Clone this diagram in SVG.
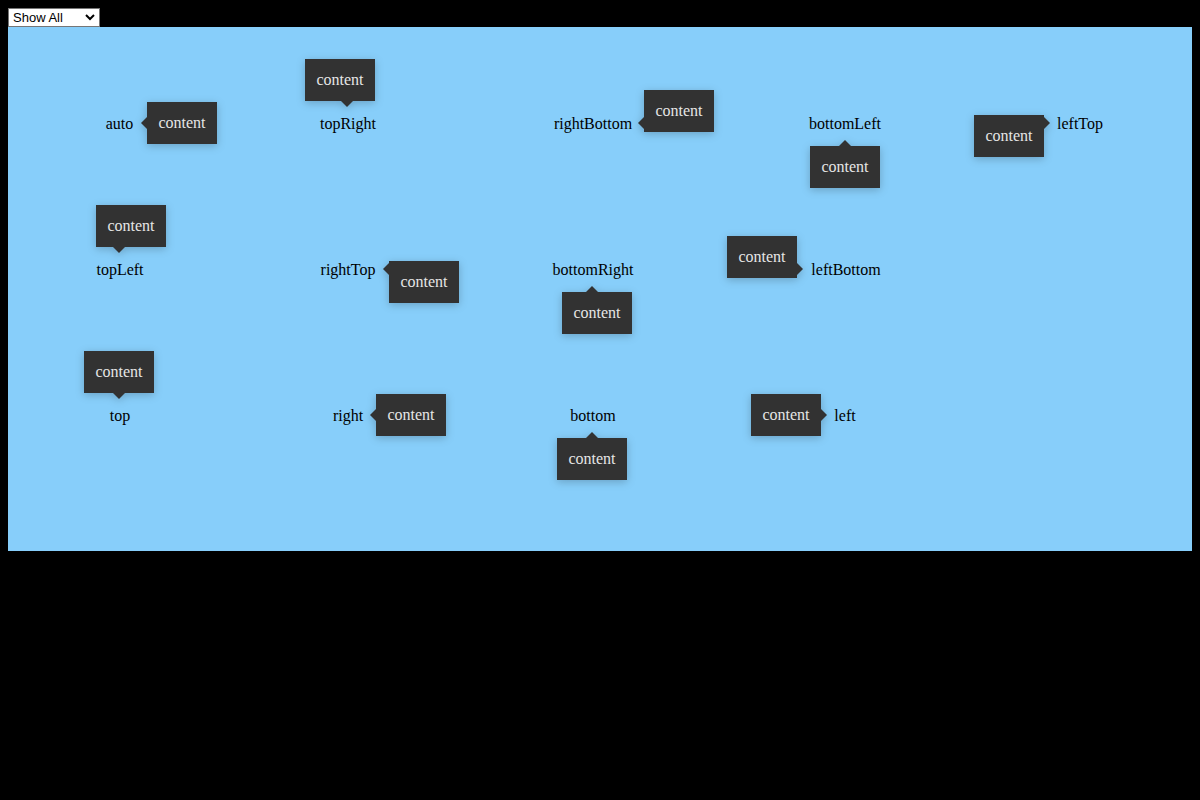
<svg xmlns="http://www.w3.org/2000/svg" width="1200" height="800" viewBox="0 0 1200 800">
<defs>
<filter id="sh" x="-30%" y="-40%" width="160%" height="180%">
<feDropShadow dx="0" dy="2" stdDeviation="4" flood-color="#000" flood-opacity="0.22"/>
</filter>
</defs>
<style>
.lbl{font-family:"Liberation Serif","Times New Roman",serif;font-size:16px;fill:#000;text-anchor:middle}
.tip{fill:#333}
.tt{font-family:"Liberation Serif","Times New Roman",serif;font-size:16px;fill:#e6e6e6;text-anchor:middle}
.sel{font-family:"Liberation Sans",Arial,sans-serif;font-size:13px;fill:#000}
</style>
<rect x="0" y="0" width="1200" height="800" fill="#000"/>
<rect x="8" y="27" width="1184" height="524" fill="#87cefa"/>
<g id="select">
<rect x="8.5" y="8.5" width="91" height="18" fill="#fff" stroke="#767676"/>
<text class="sel" x="13" y="22">Show All</text>
<path d="M86 15 L90 19 L94 15" fill="none" stroke="#000" stroke-width="2"/>
</g>

<g id="auto">
<text class="lbl" x="119.5" y="129">auto</text>
<g filter="url(#sh)"><rect class="tip" x="147" y="102" width="70" height="42"/><path class="tip" d="M147 117 L141 123 L147 129Z"/></g>
<text class="tt" x="182" y="128">content</text>
</g>
<g id="topRight">
<text class="lbl" x="348" y="129">topRight</text>
<g filter="url(#sh)"><rect class="tip" x="305" y="59" width="70" height="42"/><path class="tip" d="M341 101 L347 107 L353 101Z"/></g>
<text class="tt" x="340" y="85">content</text>
</g>
<g id="rightBottom">
<text class="lbl" x="593" y="129">rightBottom</text>
<g filter="url(#sh)"><rect class="tip" x="644" y="90" width="70" height="42"/><path class="tip" d="M644 117 L638 123 L644 129Z"/></g>
<text class="tt" x="679" y="116">content</text>
</g>
<g id="bottomLeft">
<text class="lbl" x="845" y="129">bottomLeft</text>
<g filter="url(#sh)"><rect class="tip" x="810" y="146" width="70" height="42"/><path class="tip" d="M839 146 L845 140 L851 146Z"/></g>
<text class="tt" x="845" y="172">content</text>
</g>
<g id="leftTop">
<text class="lbl" x="1080" y="129">leftTop</text>
<g filter="url(#sh)"><rect class="tip" x="974" y="115" width="70" height="42"/><path class="tip" d="M1044 117 L1050 123 L1044 129Z"/></g>
<text class="tt" x="1009" y="141">content</text>
</g>

<g id="topLeft">
<text class="lbl" x="120" y="275">topLeft</text>
<g filter="url(#sh)"><rect class="tip" x="96" y="205" width="70" height="42"/><path class="tip" d="M113 247 L119 253 L125 247Z"/></g>
<text class="tt" x="131" y="231">content</text>
</g>
<g id="rightTop">
<text class="lbl" x="348" y="275">rightTop</text>
<g filter="url(#sh)"><rect class="tip" x="389" y="261" width="70" height="42"/><path class="tip" d="M389 263 L383 269 L389 275Z"/></g>
<text class="tt" x="424" y="287">content</text>
</g>
<g id="bottomRight">
<text class="lbl" x="593" y="275">bottomRight</text>
<g filter="url(#sh)"><rect class="tip" x="562" y="292" width="70" height="42"/><path class="tip" d="M586 292 L592 286 L598 292Z"/></g>
<text class="tt" x="597" y="318">content</text>
</g>
<g id="leftBottom">
<text class="lbl" x="846" y="275">leftBottom</text>
<g filter="url(#sh)"><rect class="tip" x="727" y="236" width="70" height="42"/><path class="tip" d="M797 263 L803 269 L797 275Z"/></g>
<text class="tt" x="762" y="262">content</text>
</g>

<g id="top">
<text class="lbl" x="120" y="421">top</text>
<g filter="url(#sh)"><rect class="tip" x="84" y="351" width="70" height="42"/><path class="tip" d="M113 393 L119 399 L125 393Z"/></g>
<text class="tt" x="119" y="377">content</text>
</g>
<g id="right">
<text class="lbl" x="348" y="421">right</text>
<g filter="url(#sh)"><rect class="tip" x="376" y="394" width="70" height="42"/><path class="tip" d="M376 409 L370 415 L376 421Z"/></g>
<text class="tt" x="411" y="420">content</text>
</g>
<g id="bottom">
<text class="lbl" x="593" y="421">bottom</text>
<g filter="url(#sh)"><rect class="tip" x="557" y="438" width="70" height="42"/><path class="tip" d="M586 438 L592 432 L598 438Z"/></g>
<text class="tt" x="592" y="464">content</text>
</g>
<g id="left">
<text class="lbl" x="845" y="421">left</text>
<g filter="url(#sh)"><rect class="tip" x="751" y="394" width="70" height="42"/><path class="tip" d="M821 409 L827 415 L821 421Z"/></g>
<text class="tt" x="786" y="420">content</text>
</g>
</svg>
